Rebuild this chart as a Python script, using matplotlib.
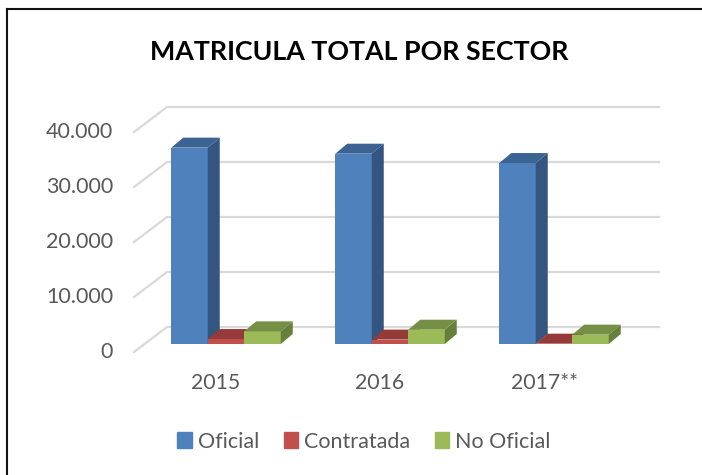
import matplotlib
matplotlib.use("Agg")
from matplotlib import pyplot as plt
from matplotlib.lines import Line2D
from matplotlib.patches import Patch
from matplotlib.transforms import ScaledTranslation

# chart data
years = ["2015", "2016", "2017**"]
oficial = [35700, 34600, 32900]
contratada = [900, 800, 60]
no_oficial = [2300, 2600, 1700]
y_ticks = [0, 10000, 20000, 30000, 40000]
y_labels = ["0", "10.000", "20.000", "30.000", "40.000"]

plt.rcParams["font.family"] = ["Lato", "DejaVu Sans"]

W, H = 702, 475
fig = plt.figure(figsize=(W / 100, H / 100), dpi=100)

# plot box in pixels: floor front edge at y=352, back wall top at y=107
left, right, bottom, top = 134, 659, 352, 107
ax = fig.add_axes([left / W, 1 - bottom / H, (right - left) / W, (bottom - top) / H])

px_x = 164  # pixels per category
px_y = 5.5 / 1000  # pixels per unit
ax.set_xlim(-0.5, -0.5 + (right - left) / px_x)
ax.set_ylim(0, (bottom - top) / px_y)

for s in ax.spines.values():
    s.set_visible(False)
ax.patch.set_alpha(0)

# walls: diagonal on the side and a line along the back
wall_dx = 33 / px_x
wall_dy = 25 / px_y
x0, x1 = ax.get_xlim()
for v in y_ticks:
    ax.plot([x0, x0 + wall_dx, x1], [v, v + wall_dy, v + wall_dy],
            color="#D9D9D9", lw=1.6, clip_on=False, zorder=1)

# bars
bar_w = 36.5 / px_x
bar_x = 10 / px_x
bar_y = 8 / px_y
depth_x = 12 / px_x
depth_y = 10 / px_y
series = [
    (oficial, -1, "#4F81BD", "#3B6494", "#34557F"),
    (contratada, 0, "#C0504D", "#953A38", "#853432"),
    (no_oficial, 1, "#9BBB59", "#758F45", "#66803C"),
]
for values, pos, front, top_c, side in series:
    for i, v in enumerate(values):
        xl = i + bar_x + (pos - 0.5) * bar_w
        xr = xl + bar_w
        yb = bar_y
        yt = bar_y + v
        ax.bar(xl, v, bar_w, bottom=yb, align="edge", color=front, zorder=3 + pos)
        ax.fill([xl, xr, xr + depth_x, xl + depth_x],
                [yt, yt, yt + depth_y, yt + depth_y], color=top_c, lw=0, zorder=3 + pos)
        ax.fill([xr, xr + depth_x, xr + depth_x, xr],
                [yb, yb + depth_y, yt + depth_y, yt], color=side, lw=0, zorder=3 + pos)

# ticks
ax.set_xticks(range(len(years)))
ax.set_xticklabels(years)
ax.set_yticks(y_ticks)
ax.set_yticklabels(y_labels)
ax.tick_params(axis="x", length=0, pad=15, labelsize=15.3, labelcolor="#595959")
ax.tick_params(axis="y", length=0, pad=15, labelsize=15.5, labelcolor="#595959")
shift = ScaledTranslation(0, 2 / 100, fig.dpi_scale_trans)
for lab in ax.get_yticklabels():
    lab.set_transform(lab.get_transform() + shift)

fig.text(359.5 / W, 1 - 52 / H, "MATRICULA TOTAL POR SECTOR",
         ha="center", va="center", fontsize=19.3, fontweight="bold", color="black")

handles = [Patch(color="#4F81BD", label="Oficial"),
           Patch(color="#C0504D", label="Contratada"),
           Patch(color="#9BBB59", label="No Oficial")]
fig.legend(handles=handles, loc="center", bbox_to_anchor=(364 / W, 1 - 441.5 / H),
           ncol=3, frameon=False, fontsize=15.5, labelcolor="#595959",
           handlelength=0.66, handleheight=0.7, handletextpad=0.28, columnspacing=1.16,
           borderpad=0, borderaxespad=0)

# picture border
fig.add_artist(Line2D([7 / W, 7 / W], [0, 1 - 8.5 / H], color="#111111", lw=1.5))
fig.add_artist(Line2D([7 / W, 1], [1 - 8.5 / H, 1 - 8.5 / H], color="#111111", lw=1.5))

fig.savefig("out.png", dpi=100)
